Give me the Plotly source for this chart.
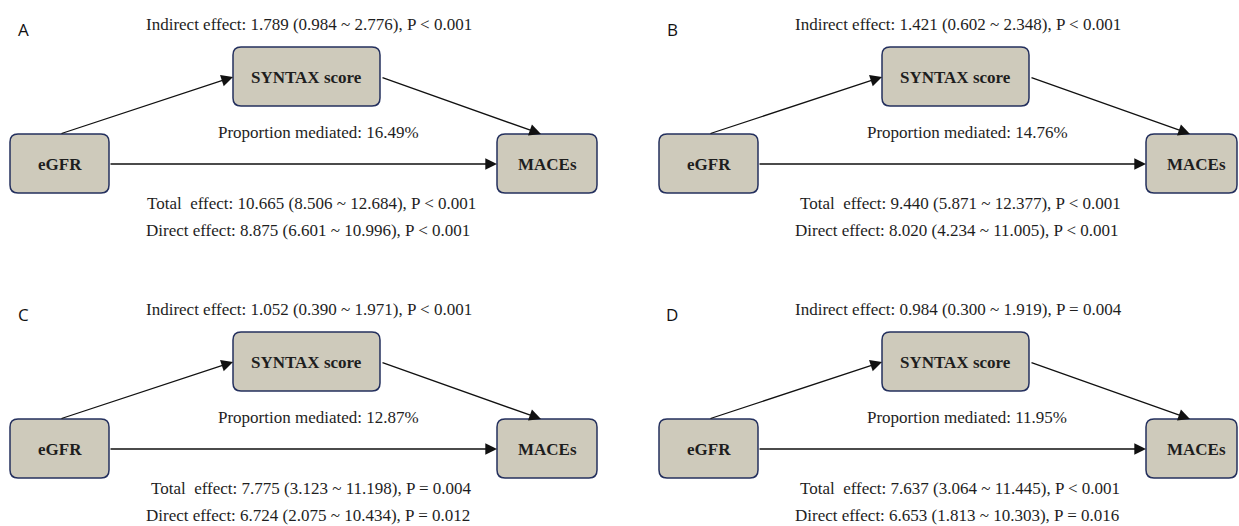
import plotly.graph_objects as go

# Mediation results per panel (exposure -> mediator -> outcome)
panel_labels = ["A", "B", "C", "D"]
exposure = "eGFR"
mediator = "SYNTAX score"
outcome = "MACEs"

indirect_est = [1.789, 1.421, 1.052, 0.984]
indirect_lo = [0.984, 0.602, 0.390, 0.300]
indirect_hi = [2.776, 2.348, 1.971, 1.919]
indirect_p = ["P < 0.001", "P < 0.001", "P < 0.001", "P = 0.004"]

total_est = [10.665, 9.440, 7.775, 7.637]
total_lo = [8.506, 5.871, 3.123, 3.064]
total_hi = [12.684, 12.377, 11.198, 11.445]
total_p = ["P < 0.001", "P < 0.001", "P = 0.004", "P < 0.001"]

direct_est = [8.875, 8.020, 6.724, 6.653]
direct_lo = [6.601, 4.234, 2.075, 1.813]
direct_hi = [10.996, 11.005, 10.434, 10.303]
direct_p = ["P < 0.001", "P < 0.001", "P = 0.012", "P = 0.016"]

prop_mediated = [16.49, 14.76, 12.87, 11.95]

# Layout (pixel space of the page)
W, H = 1239, 526
offsets = [(0, 0), (649, 0), (0, 285), (649, 285)]
BOX_FILL = "#cecabb"
BOX_LINE = "#24305e"
TEXT_COL = "#1e1e1e"
SERIF = "Liberation Serif, Times New Roman, serif"

# node boxes relative to panel origin: x0, y0, x1, y1
box_exp = (10, 134, 109, 193)
box_med = (233, 47, 380, 106)
box_out = (497, 134, 597, 193)


def rounded_path(x0, y0, x1, y1, r=8):
    return (f"M{x0 + r},{y0} L{x1 - r},{y0} Q{x1},{y0} {x1},{y0 + r} "
            f"L{x1},{y1 - r} Q{x1},{y1} {x1 - r},{y1} L{x0 + r},{y1} "
            f"Q{x0},{y1} {x0},{y1 - r} L{x0},{y0 + r} Q{x0},{y0} {x0 + r},{y0} Z")


def fmt(est, lo, hi, p):
    return f"{est:.3f} ({lo:.3f} ~ {hi:.3f}), {p}"


shapes = []
annotations = []


def add_text(x, y, text, size=17, family=SERIF, color=TEXT_COL):
    annotations.append(dict(x=x, y=y, xref="x", yref="y", text=text, showarrow=False,
                            xanchor="center", yanchor="middle",
                            font=dict(family=family, size=size, color=color)))


def add_arrow(x0, y0, x1, y1):
    annotations.append(dict(x=x1, y=y1, ax=x0, ay=y0, xref="x", yref="y",
                            axref="x", ayref="y", text="", showarrow=True,
                            arrowhead=2, arrowsize=1.8, arrowwidth=1.3,
                            arrowcolor="#111111", standoff=0, startstandoff=0))


for i, (dx, dy) in enumerate(offsets):
    boxes = []
    for (bx0, by0, bx1, by1), label in [(box_exp, exposure), (box_med, mediator), (box_out, outcome)]:
        x0, y0, x1, y1 = bx0 + dx, by0 + dy, bx1 + dx, by1 + dy
        x1 = min(x1, W - 2)
        boxes.append((x0, y0, x1, y1))
        shapes.append(dict(type="path", path=rounded_path(x0, y0, x1, y1), xref="x", yref="y",
                           fillcolor=BOX_FILL, line=dict(color=BOX_LINE, width=1.5), layer="below"))
        cx = (bx0 + bx1) / 2 + dx
        cy = (by0 + by1) / 2 + dy
        add_text(cx, cy + 1, f"<b>{label}</b>", size=17)

    e, m, o = boxes
    # exposure -> mediator
    add_arrow(dx + 60, e[1], m[0], dy + 77)
    # mediator -> outcome
    add_arrow(m[2] + 1, dy + 77, dx + 541, o[1])
    # exposure -> outcome (direct path)
    add_arrow(e[2], dy + 164, o[0], dy + 164)

    # panel letter
    add_text(dx + 23, dy + 29, panel_labels[i], size=17, family="Open Sans, DejaVu Sans, sans-serif",
             color="#111111")
    # effect texts
    add_text(dx + 309, dy + 24, "Indirect effect: " + fmt(indirect_est[i], indirect_lo[i],
                                                          indirect_hi[i], indirect_p[i]))
    add_text(dx + 318, dy + 132, f"Proportion mediated: {prop_mediated[i]:.2f}%")
    add_text(dx + 311, dy + 203, "Total\u00a0 effect: " + fmt(total_est[i], total_lo[i],
                                                              total_hi[i], total_p[i]))
    add_text(dx + 308, dy + 230, "Direct effect: " + fmt(direct_est[i], direct_lo[i],
                                                         direct_hi[i], direct_p[i]))

fig = go.Figure()
fig.update_layout(
    width=W, height=H,
    margin=dict(l=0, r=0, t=0, b=0),
    paper_bgcolor="white", plot_bgcolor="white",
    xaxis=dict(range=[0, W], visible=False, fixedrange=True),
    yaxis=dict(range=[H, 0], visible=False, fixedrange=True),
    shapes=shapes, annotations=annotations, showlegend=False,
)
fig.write_html("out.html", config={"displayModeBar": False})
